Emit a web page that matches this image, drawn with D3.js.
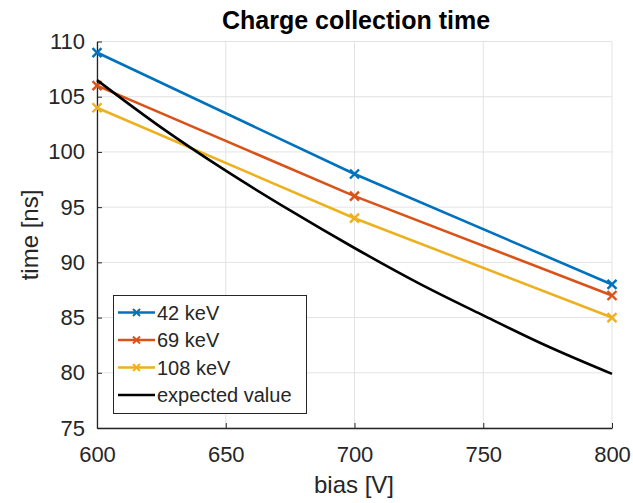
<!DOCTYPE html>
<html><head><meta charset="utf-8">
<script src="https://cdn.jsdelivr.net/npm/d3@7"></script>
<style>body{margin:0;background:#fff}svg{display:block}text{font-family:"Liberation Sans",Arial,sans-serif}</style>
</head><body><svg id="c" width="633" height="503"></svg>
<script>
const bias = [600, 700, 800];
const kev42 = [109, 98, 88];
const kev69 = [106, 96, 87];
const kev108 = [104, 94, 85];
const expBias = [600, 625, 650, 675, 700, 725, 750, 775, 800];
const expVal = [106.5, 102.2, 98.3, 94.7, 91.3, 88.1, 85.2, 82.4, 79.9];
const xTicks = [600, 650, 700, 750, 800];
const yTicks = [75, 80, 85, 90, 95, 100, 105, 110];
const names = ["42 keV", "69 keV", "108 keV", "expected value"];
const colors = ["#0072BD", "#D95319", "#EDB120", "#000000"];

const svg = d3.select("#c");
const L = 97, R = 612, T = 41.5, B = 428;
const x = d3.scaleLinear().domain([600, 800]).range([L, R]);
const y = d3.scaleLinear().domain([75, 110]).range([B, T]);
const ink = "#262626";

// grid
svg.append("g").selectAll("line").data(xTicks).join("line")
  .attr("x1", d => x(d)).attr("x2", d => x(d)).attr("y1", T).attr("y2", B)
  .attr("stroke", "#e3e3e3").attr("stroke-width", 1);
svg.append("g").selectAll("line").data(yTicks).join("line")
  .attr("y1", d => y(d)).attr("y2", d => y(d)).attr("x1", L).attr("x2", R)
  .attr("stroke", "#e3e3e3").attr("stroke-width", 1);

// axes
const xa = svg.append("g").attr("transform", `translate(0,${B})`)
  .call(d3.axisBottom(x).tickValues(xTicks).tickSizeInner(-5).tickSizeOuter(0).tickPadding(18));
const ya = svg.append("g").attr("transform", `translate(${L},0)`)
  .call(d3.axisLeft(y).tickValues(yTicks).tickSizeInner(-5).tickSizeOuter(0).tickPadding(12));
[xa, ya].forEach(a => {
  a.select(".domain").attr("stroke", ink).attr("stroke-width", 1.3);
  a.selectAll(".tick line").attr("stroke", ink);
  a.selectAll(".tick text").attr("fill", ink).style("font-size", "22px");
});

// series
const series = [kev42, kev69, kev108];
const line = d3.line().x(d => x(d[0])).y(d => y(d[1]));
series.forEach((s, i) => {
  const pts = bias.map((b, j) => [b, s[j]]);
  svg.append("path").attr("d", line(pts)).attr("fill", "none")
    .attr("stroke", colors[i]).attr("stroke-width", 2.6);
  const sz = 4.5;
  svg.append("g").selectAll("path").data(pts).join("path")
    .attr("d", d => `M${x(d[0])-sz},${y(d[1])-sz}L${x(d[0])+sz},${y(d[1])+sz}M${x(d[0])-sz},${y(d[1])+sz}L${x(d[0])+sz},${y(d[1])-sz}`)
    .attr("stroke", colors[i]).attr("stroke-width", 2.4);
});
const expPts = expBias.map((b, j) => [b, expVal[j]]);
svg.append("path").attr("d", d3.line().curve(d3.curveMonotoneX).x(d => x(d[0])).y(d => y(d[1]))(expPts))
  .attr("fill", "none").attr("stroke", "#000").attr("stroke-width", 2.6);

// title & labels
svg.append("text").attr("x", 356).attr("y", 29).attr("text-anchor", "middle")
  .style("font-size", "25px").style("font-weight", "bold").attr("fill", "#000").text("Charge collection time");
svg.append("text").attr("x", 354).attr("y", 493).attr("text-anchor", "middle")
  .style("font-size", "24px").attr("fill", ink).text("bias [V]");
svg.append("text").attr("transform", `translate(38,235) rotate(-90)`).attr("text-anchor", "middle")
  .style("font-size", "24px").attr("fill", ink).text("time [ns]");

// legend
const lg = svg.append("g");
lg.append("rect").attr("x", 113.5).attr("y", 295.5).attr("width", 193).attr("height", 118)
  .attr("fill", "#fff").attr("stroke", ink).attr("stroke-width", 1);
names.forEach((n, i) => {
  const cy = 312.5 + i * 27.5;
  lg.append("line").attr("x1", 118).attr("x2", 155).attr("y1", cy).attr("y2", cy)
    .attr("stroke", colors[i]).attr("stroke-width", 2.6);
  if (i < 3) {
    const cx = 136.5, s = 3.5;
    lg.append("path").attr("d", `M${cx-s},${cy-s}L${cx+s},${cy+s}M${cx-s},${cy+s}L${cx+s},${cy-s}`)
      .attr("stroke", colors[i]).attr("stroke-width", 2);
  }
  lg.append("text").attr("x", 157).attr("y", cy + 7).style("font-size", "20px").attr("fill", ink).text(n);
});
</script></body></html>
